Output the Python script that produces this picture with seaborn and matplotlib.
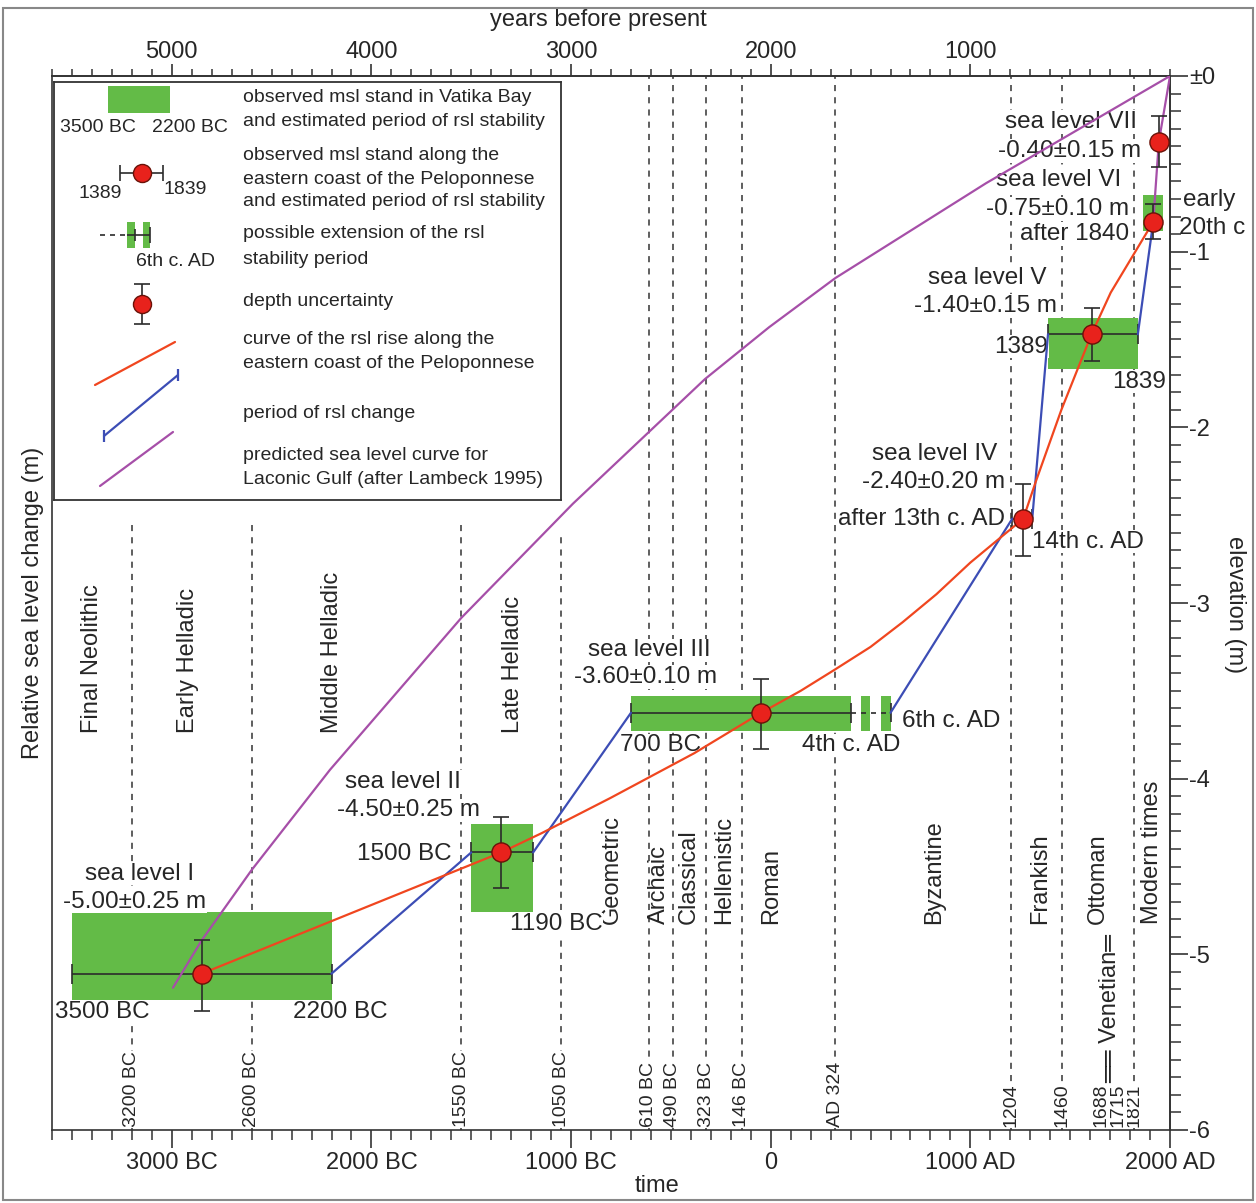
import numpy as np
import pandas as pd
import matplotlib
matplotlib.use("Agg")
import matplotlib.pyplot as plt
import matplotlib.transforms as mtransforms
from matplotlib.patches import Rectangle
from matplotlib.ticker import MultipleLocator, FuncFormatter
import seaborn as sns

# ==========================================
# DATA
# ==========================================

# observed msl stands (green boxes), years AD (BC negative), metres
box_start = [-3500, -1500, -700, 1389, 1863]
box_end = [-2200, -1190, 400, 1839, 1964]
box_low = [-5.26, -4.76, -3.73, -1.67, -0.88]
box_high = [-4.76, -4.26, -3.53, -1.38, -0.68]

# possible extension of the sea level III stability period
ext_start = [451, 553]
ext_end = [498, 600]

# sea levels I-VII with depth uncertainty
sl_year = [-2850, -1350, -48, 1265, 1607, 1916, 1944]
sl_depth = [-5.11, -4.42, -3.625, -2.52, -1.47, -0.83, -0.375]
sl_err_low = [0.21, 0.20, 0.205, 0.21, 0.15, 0.10, 0.145]
sl_err_high = [0.19, 0.20, 0.195, 0.20, 0.15, 0.10, 0.145]

# estimated periods of rsl stability for sea levels I-V
stab_start = [-3500, -1500, -700, 1210, 1389]
stab_end = [-2200, -1190, 400, 1310, 1839]

# curve of the rsl rise along the eastern coast of the Peloponnese
rsl_year = [-2850, -1350, -1147, -803, -383, -48, 150, 320, 500, 660, 830, 1000,
            1265, 1329, 1456, 1607, 1703, 1916]
rsl_depth = [-5.11, -4.42, -4.31, -4.11, -3.855, -3.625, -3.50, -3.38, -3.25, -3.11,
             -2.95, -2.77, -2.52, -2.305, -1.90, -1.47, -1.233, -0.83]

# periods of rsl change
change_seg = [0, 0, 1, 1, 2, 2, 3, 3, 4, 4]
change_year = [-2200, -1500, -1190, -700, 600, 1210, 1310, 1389, 1839, 1916]
change_depth = [-5.11, -4.42, -4.42, -3.625, -3.625, -2.52, -2.52, -1.47, -1.47, -0.83]

# predicted sea level curve, Laconic Gulf (Lambeck 1995)
lam_year = [-2994, -2850, -2600, -2208, -1550, -991, -329, -8, 324, 1079, 2000]
lam_depth = [-5.19, -4.92, -4.52, -3.95, -3.085, -2.435, -1.725, -1.43, -1.15, -0.61, 0.0]

# last rise VI -> VII -> present
tail_year = [1916, 1944, 2000]
tail_depth = [-0.83, -0.375, 0.0]

# cultural period boundaries
bound_year = [-3200, -2600, -1550, -1050, -610, -490, -323, -146, 324, 1204, 1460, 1821]
bound_text = ["3200 BC", "2600 BC", "1550 BC", "1050 BC", "610 BC", "490 BC",
              "323 BC", "146 BC", "AD 324", "1204", "1460", "1821"]
venetian_text = ["1688", "1715"]

period_names = ["Final Neolithic", "Early Helladic", "Middle Helladic", "Late Helladic",
                "Geometric", "Archaic", "Classical", "Hellenistic", "Roman",
                "Byzantine", "Frankish", "Ottoman", "Modern times"]

sl_names = ["sea level I", "sea level II", "sea level III", "sea level IV",
            "sea level V", "sea level VI", "sea level VII"]
sl_values = ["-5.00±0.25 m", "-4.50±0.25 m", "-3.60±0.10 m", "-2.40±0.20 m",
             "-1.40±0.15 m", "-0.75±0.10 m", "-0.40±0.15 m"]

bp_ticks = [5000, 4000, 3000, 2000, 1000]
elev_ticks = [-6, -5, -4, -3, -2, -1, 0]
elev_labels = ["-6", "-5", "-4", "-3", "-2", "-1", "±0"]

# ==========================================
# STYLE
# ==========================================

sns.set_theme(style="ticks")
plt.rcParams["font.family"] = ["Liberation Sans", "DejaVu Sans"]

GREEN = "#63bb47"
RED_DOT = "#e8221c"
RED_LINE = "#f0461f"
BLUE = "#3c4db5"
PURPLE = "#a64fa8"
DARK = "#2b2b2b"
FS = 17

fig = plt.figure(figsize=(12.56, 12.03), dpi=100)
ax = fig.add_axes([52 / 1256, 73 / 1203, 1118 / 1256, 1054 / 1203])
ax.set_xlim(-3600, 2000)
ax.set_ylim(-6, 0)

# ==========================================
# PERIOD BOUNDARIES
# ==========================================

# lines below the legend box start a little under it
bound_top = [-2.52, -2.52, -2.52, -2.6] + [0] * 8
ax.vlines(bound_year, -6, bound_top, colors="#333333", linestyles=(0, (4, 4)),
          linewidth=1.1, zorder=1)

label_x = bound_year + [1655, 1740]
for x, t in zip(label_x, bound_text + venetian_text):
    ax.text(x, -5.985, t, rotation=90, ha="center", va="bottom", fontsize=14,
            bbox=dict(fc="white", ec="none", pad=0.6), zorder=2)

period_x = [-3400, -2918, -2196, -1292, -798, -560, -410, -235, 3,
            818, 1347, 1637, 1910]
period_y = [-3.74] * 4 + [-4.83] * 9
for x, y, t in zip(period_x, period_y, period_names):
    ax.text(x, y, t, rotation=90, ha="center", va="bottom", fontsize=FS, zorder=2)

ax.text(1700, -5.73, "\u2550\u2550 Venetian\u2550", rotation=90, ha="center",
        va="bottom", fontsize=FS, zorder=2)

# ==========================================
# STABILITY PERIODS
# ==========================================

for s, e, lo, hi in zip(box_start + ext_start, box_end + ext_end,
                        box_low + [box_low[2]] * 2, box_high + [box_high[2]] * 2):
    ax.add_patch(Rectangle((s, lo), e - s, hi - lo, facecolor=GREEN,
                           edgecolor="none", zorder=2))

cx = np.array(sl_year[:5])
ax.errorbar(cx, sl_depth[:5],
            xerr=[cx - np.array(stab_start), np.array(stab_end) - cx],
            fmt="none", ecolor=DARK, elinewidth=1.2, capsize=7, capthick=1.2, zorder=3)

ax.hlines(sl_depth[2], stab_end[2], ext_end[-1], colors=DARK,
          linestyles=(0, (3, 3)), linewidth=1.2, zorder=3)
ax.vlines(ext_end[-1], sl_depth[2] - 0.055, sl_depth[2] + 0.055,
          colors=DARK, linewidth=1.2, zorder=3)

# ==========================================
# CURVES
# ==========================================

sns.lineplot(x=lam_year, y=lam_depth, sort=False, estimator=None,
             color=PURPLE, linewidth=1.6, ax=ax, zorder=4)
sns.lineplot(x=tail_year, y=tail_depth, sort=False, estimator=None,
             color=PURPLE, linewidth=1.6, ax=ax, zorder=4)

change_df = pd.DataFrame({"year": change_year, "depth": change_depth, "seg": change_seg})
sns.lineplot(data=change_df, x="year", y="depth", units="seg", estimator=None,
             sort=False, color=BLUE, linewidth=1.6, ax=ax, zorder=4)

sns.lineplot(x=rsl_year, y=rsl_depth, sort=False, estimator=None,
             color=RED_LINE, linewidth=1.6, ax=ax, zorder=4)

ax.errorbar(sl_year, sl_depth, yerr=[sl_err_low, sl_err_high], fmt="none",
            ecolor=DARK, elinewidth=1.2, capsize=5.5, capthick=1.2, zorder=5)
sns.scatterplot(x=sl_year, y=sl_depth, s=190, color=RED_DOT, edgecolor="#6a1208",
                linewidth=1.0, ax=ax, zorder=6)

# ==========================================
# ANNOTATIONS
# ==========================================

name_pos = [(-3159, -4.54), (-1842, -4.02), (-610, -3.27), (823, -2.15),
            (1084, -1.15), (1444, -0.59), (1504, -0.262)]
value_pos = [(-3184, -4.70), (-1812, -4.18), (-625, -3.42), (818, -2.31),
             (1078, -1.31), (1439, -0.757), (1499, -0.427)]
for (x, y), t in zip(name_pos, sl_names):
    ax.text(x, y, t, ha="center", va="center", fontsize=FS + 0.5,
            bbox=dict(fc="white", ec="none", pad=0.5), zorder=3)
for (x, y), t in zip(value_pos, sl_values):
    ax.text(x, y, t, ha="center", va="center", fontsize=FS + 0.5,
            bbox=dict(fc="white", ec="none", pad=0.5), zorder=3)

date_notes = [("3500 BC", -3350, -5.33), ("2200 BC", -2157, -5.33),
              ("1500 BC", -1837, -4.43), ("1190 BC", -1076, -4.83),
              ("700 BC", -550, -3.81), ("4th c. AD", 402, -3.81),
              ("6th c. AD", 903, -3.67), ("after 13th c. AD", 753, -2.52),
              ("14th c. AD", 1589, -2.65), ("1389", 1254, -1.54),
              ("1839", 1845, -1.74), ("after 1840", 1524, -0.90)]
for t, x, y in date_notes:
    ax.text(x, y, t, ha="center", va="center", fontsize=FS + 0.5,
            bbox=dict(fc="white", ec="none", pad=0.5), zorder=3)

right_tr = mtransforms.blended_transform_factory(ax.transAxes, ax.transData)
ax.text(1.012, -0.706, "early", transform=right_tr, ha="left", va="center",
        fontsize=FS + 0.5, clip_on=False)
ax.text(1.008, -0.865, "20th c", transform=right_tr, ha="left", va="center",
        fontsize=FS + 0.5, clip_on=False)

# ==========================================
# AXES
# ==========================================


def year_label(v, pos):
    v = int(round(v))
    if v < 0:
        return f"{-v} BC"
    if v == 0:
        return "0"
    return f"{v} AD"


ax.xaxis.set_major_locator(MultipleLocator(1000))
ax.xaxis.set_minor_locator(MultipleLocator(100))
ax.xaxis.set_major_formatter(FuncFormatter(year_label))
ax.tick_params(axis="x", which="major", direction="out", length=13, width=1.2,
               labelsize=FS, pad=3, color="#333333")
ax.tick_params(axis="x", which="minor", direction="out", length=7, width=1.1,
               color="#333333")
ax.tick_params(axis="y", which="both", left=False, labelleft=False, right=False)
ax.set_xlabel("time", fontsize=FS)
ax.xaxis.set_label_coords(0.541, -0.043)
ax.set_ylabel("Relative sea level change (m)", fontsize=FS, labelpad=6)
for sp in ax.spines.values():
    sp.set_color("#333333")
    sp.set_linewidth(1.2)

top = ax.secondary_xaxis("top", functions=(lambda x: 2000 - x, lambda x: 2000 - x))
top.set_xticks(bp_ticks)
top.set_xticklabels([str(v) for v in bp_ticks])
top.xaxis.set_minor_locator(MultipleLocator(100))
top.tick_params(which="major", direction="out", length=8.5, width=1.2,
                labelsize=FS, pad=0.5, color="#333333")
top.tick_params(which="minor", direction="out", length=5, width=1.1, color="#333333")
top.spines["top"].set_color("#333333")
fig.text(598 / 1256, 1 - 20 / 1203, "years before present", ha="center",
         va="center", fontsize=FS)

right = ax.secondary_yaxis("right")
right.set_yticks(elev_ticks)
right.set_yticklabels(elev_labels)
right.yaxis.set_minor_locator(MultipleLocator(0.1))
right.tick_params(which="major", direction="out", length=13, width=1.2,
                  labelsize=FS, pad=1, color="#333333")
right.tick_params(which="minor", direction="out", length=8, width=1.1, color="#333333")
right.spines["right"].set_color("#333333")
fig.text(1235 / 1256, 1 - 605 / 1203, "elevation (m)", rotation=270, ha="center",
         va="center", fontsize=FS)

# ==========================================
# LEGEND BOX
# ==========================================

lax = fig.add_axes([54 / 1256, 703 / 1203, 507 / 1256, 418 / 1203], zorder=10)
lax.set_xlim(0, 507)
lax.set_ylim(418, 0)
lax.set_xticks([])
lax.set_yticks([])
lax.set_facecolor("white")
for sp in lax.spines.values():
    sp.set_color("#333333")
    sp.set_linewidth(1.3)

LFS = 14
lax.add_patch(Rectangle((54, 4), 62, 27, facecolor=GREEN, edgecolor="none"))
lax.text(44, 46, "3500 BC", ha="center", va="center", fontsize=LFS)
lax.text(136, 46, "2200 BC", ha="center", va="center", fontsize=LFS)

lax.errorbar([88], [91], xerr=[[22], [21]], fmt="o", ms=13, mfc=RED_DOT, mec="#6a1208",
             ecolor=DARK, elinewidth=1.2, capsize=6, capthick=1.2)
lax.text(46, 111, "1389", ha="center", va="center", fontsize=LFS)
lax.text(131, 108, "1839", ha="center", va="center", fontsize=LFS)

lax.hlines(153, 46, 73, colors=DARK, linestyles=(0, (3, 3)), linewidth=1.2)
lax.add_patch(Rectangle((73, 140), 8, 26, facecolor=GREEN, edgecolor="none"))
lax.add_patch(Rectangle((89, 140), 7, 26, facecolor=GREEN, edgecolor="none"))
lax.hlines(153, 73, 96, colors=DARK, linewidth=1.2)
lax.vlines([81, 96], [147, 145], [159, 161], colors=DARK, linewidth=1.2)
lax.text(121, 180, "6th c. AD", ha="center", va="center", fontsize=LFS)

lax.errorbar([88], [222], yerr=[[20], [20]], fmt="o", ms=13, mfc=RED_DOT, mec="#6a1208",
             ecolor=DARK, elinewidth=1.2, capsize=6, capthick=1.2)

lax.plot([41, 121], [303, 260], color=RED_LINE, linewidth=1.6)
lax.plot([50, 124], [354, 293], color=BLUE, linewidth=1.6)
lax.vlines([50, 124], [348, 287], [360, 299], colors=BLUE, linewidth=1.6)
lax.plot([46, 119], [404, 350], color=PURPLE, linewidth=1.6)

legend_lines = [
    ("observed msl stand in Vatika Bay", 16),
    ("and estimated period of rsl stability", 39),
    ("observed msl stand along the", 74),
    ("eastern coast of the Peloponnese", 97),
    ("and estimated period of rsl stability", 120),
    ("possible extension of the rsl", 151),
    ("stability period", 177),
    ("depth uncertainty", 220),
    ("curve of the rsl rise along the", 258),
    ("eastern coast of the Peloponnese", 281),
    ("period of rsl change", 331),
    ("predicted sea level curve for", 374),
    ("Laconic Gulf (after Lambeck 1995)", 398),
]
for t, y in legend_lines:
    lax.text(189, y, t, ha="left", va="center", fontsize=LFS)

# outer frame of the figure
fig.patches.append(Rectangle((3 / 1256, 3 / 1203), 1250 / 1256, 1192 / 1203,
                             transform=fig.transFigure, fill=False,
                             edgecolor="#888888", linewidth=1.5))

fig.savefig("out.png", dpi=100)
